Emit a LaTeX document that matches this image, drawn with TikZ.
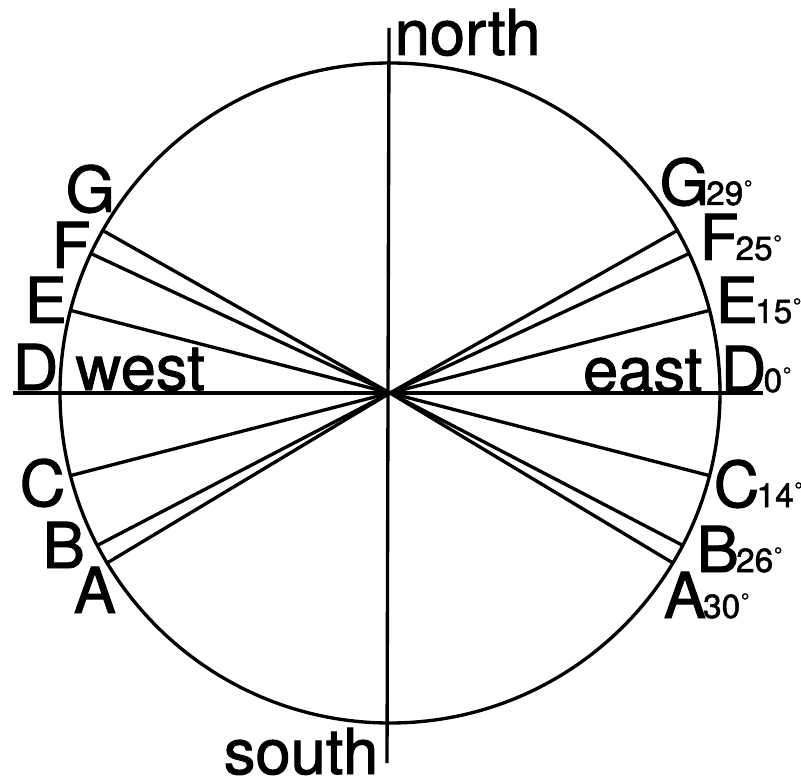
\documentclass[tikz,border=0pt]{standalone}
\usepackage{fontspec}
\setmainfont{TeX Gyre Heros}[FakeBold=1.5]
\tikzset{>=latex}
\tikzstyle{rline}=[line width=0.95pt]
\tikzstyle{big}=[inner sep=0pt,text depth=0pt,anchor=base west,font=\fontsize{18}{18}\selectfont]
\def\R{3.3}
\def\angdeg#1{{\kern-0.8pt\fontsize{9.5}{9.5}\selectfont#1\kern0.2pt\raisebox{2.8pt}{\fontsize{6}{6}\selectfont°}}}

\begin{document}
\begin{tikzpicture}
  \useasboundingbox (-3.90,-3.90) rectangle (4.11,3.93);
  \coordinate (O) at (0,0);
  \coordinate (N) at (-0.01,3.65);
  \coordinate (S) at (-0.03,-3.70);
  \coordinate (W) at (-3.77,0);
  \coordinate (E) at (3.73,0);
  \draw[rline] (O) circle(\R);
  \draw[rline] (N) -- (S);
  \draw[rline] (W) -- (E);
  % rays, mirrored left and right
  \foreach \name/\a in {A/-31,B/-27.5,C/-14.5,E/14.5,F/25,G/29.5}{
    \coordinate (r\name) at (\a:\R);
    \coordinate (l\name) at (180-\a:\R);
    \draw[rline] (O) -- (r\name);
    \draw[rline] (O) -- (l\name);
  }
  % compass words
  \node[big] (north) at (0.04,3.38) {north};
  \node[big,anchor=base east] (south) at (-0.11,-3.81) {south};
  \node[big] (west) at (-3.15,0.03) {west};
  \node[big,anchor=base east] (east) at (3.13,0.01) {east};
  % left letters
  \node[big] (lG) at (-3.25,1.81) {G};
  \node[big] (lF) at (-3.39,1.25) {F};
  \node[big] (lE) at (-3.66,0.70) {E};
  \node[big] (lD) at (-3.78,0.03) {D};
  \node[big] (lC) at (-3.71,-1.13) {C};
  \node[big] (lB) at (-3.48,-1.75) {B};
  \node[big] (lA) at (-3.17,-2.20) {A};
  % right letters with angles
  \node[big] (rG) at (2.69,1.88) {G\angdeg{29}};
  \node[big] (rF) at (3.09,1.33) {F\angdeg{25}};
  \node[big] (rE) at (3.25,0.70) {E\angdeg{15}};
  \node[big] (rD) at (3.30,0.01) {D\angdeg{0}};
  \node[big] (rC) at (3.23,-1.14) {C\angdeg{14}};
  \node[big] (rB) at (3.06,-1.79) {B\angdeg{26}};
  \node[big] (rA) at (2.73,-2.25) {A\angdeg{30}};
\end{tikzpicture}
\end{document}
